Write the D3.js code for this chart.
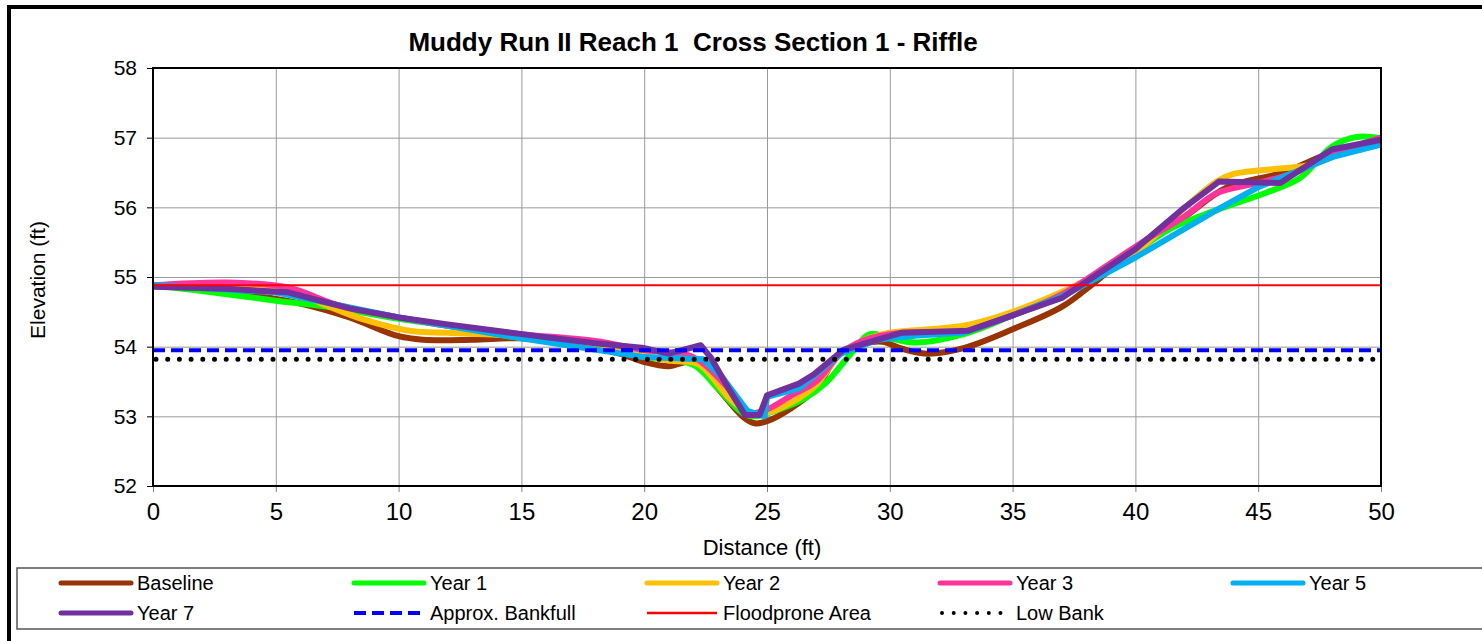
<!DOCTYPE html>
<html>
<head>
<meta charset="utf-8">
<script src="https://cdn.jsdelivr.net/npm/d3@7"></script>
<style>
  body { margin: 0; background: #fff; }
  svg { display: block; font-family: Arial, "Liberation Sans", sans-serif; }
  .grid line { stroke: #9a9a9a; stroke-width: 1; }
  .grid path { display: none; }
</style>
</head>
<body>
<div id="chart"></div>
<script>
// cross section surveys, [distance ft, elevation ft]
const baseline = [[0,54.88],[2,54.82],[4,54.74],[6,54.62],[8,54.42],[10,54.15],[11,54.1],[13,54.1],[15,54.12],
  [17,54.05],[19,53.9],[20,53.78],[21,53.72],[22,53.78],[23,53.4],[24,53.0],[24.5,52.9],[25,52.93],[26,53.12],
  [27,53.4],[28,53.92],[29,54.05],[29.7,54.07],[30.5,53.97],[31.5,53.9],[33,53.98],[35,54.25],[37,54.57],
  [38.3,54.91],[40,55.4],[42,55.86],[43.7,56.28],[46,56.5],[48,56.79],[50,56.97]];
const year1 = [[0,54.88],[2,54.8],[5,54.66],[7.2,54.57],[10,54.4],[12,54.3],[15,54.12],[18,54.0],[20,53.85],
  [22,53.74],[23,53.4],[24,53.05],[24.5,53.0],[25.5,53.1],[26.5,53.25],[27.4,53.48],[28.3,53.85],[29.2,54.18],
  [30,54.12],[31.1,54.06],[33,54.18],[35,54.45],[37,54.75],[39,55.1],[41.3,55.67],[43.3,55.96],[45.4,56.22],
  [46.7,56.42],[48,56.87],[49,57.01],[50,56.99]];
const year2 = [[0,54.88],[3,54.86],[5.5,54.8],[7,54.6],[8.5,54.4],[10.6,54.22],[12,54.2],[15,54.15],[19,53.95],
  [21,53.8],[22.2,53.75],[23.5,53.25],[24.3,53.05],[25,53.05],[26,53.2],[27,53.45],[28,53.9],[29,54.1],
  [30,54.2],[33,54.3],[35,54.5],[38,54.95],[40,55.35],[42,55.99],[43.3,56.37],[44,56.48],[46,56.56],
  [47,56.6],[48.5,56.78],[50,56.95]];
const year3 = [[0,54.88],[3,54.92],[5.5,54.85],[7.5,54.6],[10,54.42],[12,54.3],[15,54.18],[18,54.08],[20,53.95],
  [22,53.85],[23.3,53.45],[24.3,53.05],[25,53.1],[26,53.3],[27,53.5],[28,53.9],[29,54.1],[30.5,54.2],
  [33,54.22],[35,54.45],[37,54.75],[39,55.2],[40.5,55.55],[42,55.87],[43.3,56.2],[45,56.35],[46.5,56.5],
  [48,56.75],[50,57.0]];
const year5 = [[0,54.88],[5,54.78],[7.5,54.6],[10,54.42],[15,54.12],[20,53.85],[22.4,53.82],[23.2,53.55],
  [24.2,53.08],[24.9,53.0],[25.0,53.28],[26.3,53.4],[28,53.9],[29.5,54.1],[31.1,54.16],[33,54.2],[35,54.45],
  [37,54.72],[38.3,54.96],[40,55.28],[43.3,55.96],[45,56.29],[48,56.72],[50,56.9]];
const year7 = [[0,54.86],[3,54.83],[5.5,54.78],[8,54.55],[10,54.42],[12,54.32],[15,54.18],[18,54.05],[20,53.98],
  [21,53.9],[22.3,54.02],[22.7,53.85],[23.4,53.42],[24.1,53.02],[24.7,53.02],[25.0,53.3],[26.3,53.47],
  [26.9,53.6],[28.1,53.95],[29.5,54.1],[30.5,54.2],[33.2,54.23],[35,54.45],[37,54.7],[40,55.4],[41.9,55.97],
  [43.4,56.37],[45.9,56.35],[48,56.83],[50,56.97]];

const bankfull = 53.95;
const floodprone = 54.88;
const lowBank = 53.82;

const xTicks = [0, 5, 10, 15, 20, 25, 30, 35, 40, 45, 50];
const yTicks = [52, 53, 54, 55, 56, 57, 58];

const series = [
  {name: 'Baseline', values: baseline, color: '#993300', smooth: true},
  {name: 'Year 1', values: year1, color: '#00ff00', smooth: true},
  {name: 'Year 2', values: year2, color: '#ffc000', smooth: true},
  {name: 'Year 3', values: year3, color: '#ff3399', smooth: true},
  {name: 'Year 5', values: year5, color: '#00b0f0', smooth: false},
  {name: 'Year 7', values: year7, color: '#7030a0', smooth: false}
];
const refs = [
  {name: 'Approx. Bankfull', value: bankfull, color: '#0000ff', width: 4, dash: '12,6', cap: 'butt'},
  {name: 'Floodprone Area', value: floodprone, color: '#ff0000', width: 2, dash: null, cap: 'butt'},
  {name: 'Low Bank', value: lowBank, color: '#000000', width: 5, dash: '0,11.7', cap: 'round'}
];

const W = 1482, H = 641;
const margin = {top: 68, left: 153};
const width = 1228, height = 418;

const svg = d3.select('#chart').append('svg')
    .attr('width', W)
    .attr('height', H);

// outer frame
svg.append('rect')
    .attr('x', 9).attr('y', 7)
    .attr('width', W).attr('height', H)
    .attr('fill', 'none').attr('stroke', '#000').attr('stroke-width', 4);

svg.append('text')
    .attr('x', 693).attr('y', 51)
    .attr('text-anchor', 'middle')
    .style('font-size', '26px').style('font-weight', 'bold')
    .style('white-space', 'pre')
    .text('Muddy Run II Reach 1  Cross Section 1 - Riffle');

const x = d3.scaleLinear().domain([0, 50]).range([0, width]);
const y = d3.scaleLinear().domain([52, 58]).range([height, 0]);

const g = svg.append('g')
    .attr('transform', 'translate(' + margin.left + ',' + margin.top + ')');

g.append('g')
    .attr('class', 'grid')
    .call(d3.axisBottom(x).tickValues(xTicks).tickSize(height).tickFormat(''));
g.append('g')
    .attr('class', 'grid')
    .call(d3.axisLeft(y).tickValues(yTicks).tickSize(-width).tickFormat(''));

// axes ticks + labels
const xAxis = g.append('g')
    .attr('transform', 'translate(0,' + height + ')')
    .call(d3.axisBottom(x).tickValues(xTicks).tickSize(6).tickPadding(11));
xAxis.select('.domain').remove();
xAxis.selectAll('line').attr('stroke', '#808080');
xAxis.selectAll('text').style('font-size', '24px').attr('fill', '#000');

const yAxis = g.append('g')
    .call(d3.axisLeft(y).tickValues(yTicks).tickSize(6).tickPadding(10).tickFormat(d3.format('d')));
yAxis.select('.domain').remove();
yAxis.selectAll('line').attr('stroke', '#000');
yAxis.selectAll('text').style('font-size', '21px').attr('fill', '#000');

svg.append('clipPath').attr('id', 'plot')
  .append('rect').attr('width', width + 3).attr('height', height);

const lines = g.append('g').attr('clip-path', 'url(#plot)');

series.forEach((s) => {
    const line = d3.line()
        .curve(s.smooth ? d3.curveCatmullRom.alpha(0.5) : d3.curveLinear)
        .x((d) => { return x(d[0]) })
        .y((d) => { return y(d[1]) });
    lines.append('path')
        .attr('d', line(s.values))
        .attr('fill', 'none')
        .attr('stroke', s.color)
        .attr('stroke-width', 6)
        .attr('stroke-linejoin', 'round');
});

refs.forEach((r) => {
    lines.append('line')
        .attr('x1', x(0) + (r.cap === 'round' ? 3 : 0)).attr('x2', x(50))
        .attr('y1', y(r.value)).attr('y2', y(r.value))
        .attr('stroke', r.color)
        .attr('stroke-width', r.width)
        .attr('stroke-dasharray', r.dash)
        .attr('stroke-linecap', r.cap);
});

// plot border
g.append('rect')
    .attr('width', width).attr('height', height)
    .attr('fill', 'none').attr('stroke', '#000').attr('stroke-width', 2);

svg.append('text')
    .attr('x', 762).attr('y', 555)
    .attr('text-anchor', 'middle')
    .style('font-size', '22px')
    .text('Distance (ft)');

svg.append('text')
    .attr('transform', 'translate(45,280) rotate(-90)')
    .attr('text-anchor', 'middle')
    .style('font-size', '21px')
    .text('Elevation (ft)');

// legend
svg.append('rect')
    .attr('x', 17).attr('y', 568)
    .attr('width', 1500).attr('height', 61)
    .attr('fill', '#fff').attr('stroke', '#555').attr('stroke-width', 1.5);

const legendItems = series.map((s) => {
    return {name: s.name, color: s.color, width: 5, dash: null, cap: 'round'};
}).concat(refs);

legendItems.forEach((d, i) => {
    const col = i % 5, row = Math.floor(i / 5);
    const lx = 61 + col * 293, ly = 583 + row * 30;
    svg.append('line')
        .attr('x1', lx + (d.cap === 'round' && d.dash ? 2 : 0)).attr('x2', lx + 70)
        .attr('y1', ly).attr('y2', ly)
        .attr('stroke', d.color)
        .attr('stroke-width', d.name === 'Floodprone Area' ? 2.5 : (d.name === 'Low Bank' ? 4 : d.width))
        .attr('stroke-dasharray', d.dash)
        .attr('stroke-linecap', d.cap);
    svg.append('text')
        .attr('x', lx + 76).attr('y', ly)
        .attr('dy', '0.35em')
        .style('font-size', '20px')
        .text(d.name);
});
</script>
</body>
</html>
